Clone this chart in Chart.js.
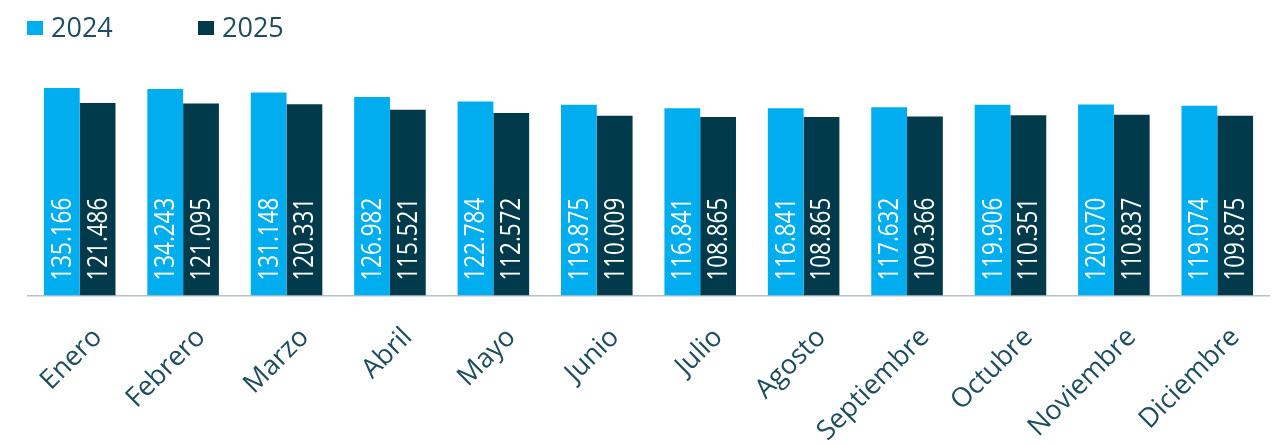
<!DOCTYPE html>
<html>
<head>
<meta charset="utf-8">
<script src="https://cdn.jsdelivr.net/npm/chart.js@4"></script>
<style>
  html, body { margin: 0; padding: 0; background: #fff; overflow: hidden; }
  #wrap { position: relative; width: 1288px; height: 445px; }
  #legend { position: absolute; left: 0; top: 0; font-family: "Open Sans", sans-serif; font-size: 27px; color: #1e4d5c; }
  .item { position: absolute; top: 10px; white-space: nowrap; line-height: 34px; }
  .sw { display: inline-block; width: 16px; height: 14px; vertical-align: middle; margin-right: 8px; margin-top: -3px; }
</style>
</head>
<body>
<div id="wrap">
  <canvas id="chart" width="1288" height="445"></canvas>
  <div id="legend"></div>
</div>
<script>
const months = ['Enero', 'Febrero', 'Marzo', 'Abril', 'Mayo', 'Junio', 'Julio', 'Agosto', 'Septiembre', 'Octubre', 'Noviembre', 'Diciembre'];
const seriesNames = ['2024', '2025'];
const values2024 = [135166, 134243, 131148, 126982, 122784, 119875, 116841, 116841, 117632, 119906, 120070, 119074];
const values2025 = [121486, 121095, 120331, 115521, 112572, 110009, 108865, 108865, 109366, 110351, 110837, 109875];
const colors = ['#00adef', '#013b4b'];
const axisMin = -52900;
const axisMax = 160500;

const fmt = v => v.toString().replace(/\B(?=(\d{3})+(?!\d))/g, '.');

// legend
const legendPos = [27, 198];
const legend = document.getElementById('legend');
seriesNames.forEach((name, i) => {
  const d = document.createElement('div');
  d.className = 'item';
  d.style.left = legendPos[i] + 'px';
  d.innerHTML = '<span class="sw" style="background:' + colors[i] + '"></span>' + name;
  legend.appendChild(d);
});

// white value labels inside the bars, rotated
const barLabels = {
  id: 'barLabels',
  afterDatasetsDraw(chart) {
    const ctx = chart.ctx;
    chart.data.datasets.forEach((ds, di) => {
      chart.getDatasetMeta(di).data.forEach((bar, i) => {
        ctx.save();
        ctx.translate(bar.x, bar.base - 15);
        ctx.rotate(-Math.PI / 2);
        ctx.scale(0.8, 1);
        ctx.font = '28px "Open Sans", sans-serif';
        ctx.fillStyle = '#ffffff';
        ctx.textAlign = 'left';
        ctx.textBaseline = 'middle';
        ctx.fillText(fmt(ds.data[i]), 0, 1);
        ctx.restore();
      });
    });
  }
};

new Chart(document.getElementById('chart'), {
  type: 'bar',
  data: {
    labels: months,
    datasets: [
      { label: seriesNames[0], data: values2024, backgroundColor: colors[0], base: axisMin },
      { label: seriesNames[1], data: values2025, backgroundColor: colors[1], base: axisMin }
    ]
  },
  options: {
    responsive: false,
    animation: false,
    layout: { padding: { left: 28, right: 19, top: 60, bottom: 0 } },
    datasets: { bar: { barPercentage: 1, categoryPercentage: 0.692 } },
    plugins: {
      legend: { display: false },
      tooltip: { enabled: false }
    },
    scales: {
      x: {
        grid: { display: false, drawTicks: false },
        border: { display: true, color: '#b7c3c8', width: 1.5 },
        afterFit: scale => {
          scale.height = 149.5;
          scale.paddingLeft = 0;
          scale.paddingRight = 0;
        },
        ticks: {
          color: '#1e4d5c',
          font: { family: '"Open Sans", sans-serif', size: 27 },
          minRotation: 45,
          maxRotation: 45,
          padding: 26,
          labelOffset: 18,
          autoSkip: false
        }
      },
      y: {
        display: false,
        min: axisMin,
        max: axisMax
      }
    }
  },
  plugins: [barLabels]
});
</script>
</body>
</html>
